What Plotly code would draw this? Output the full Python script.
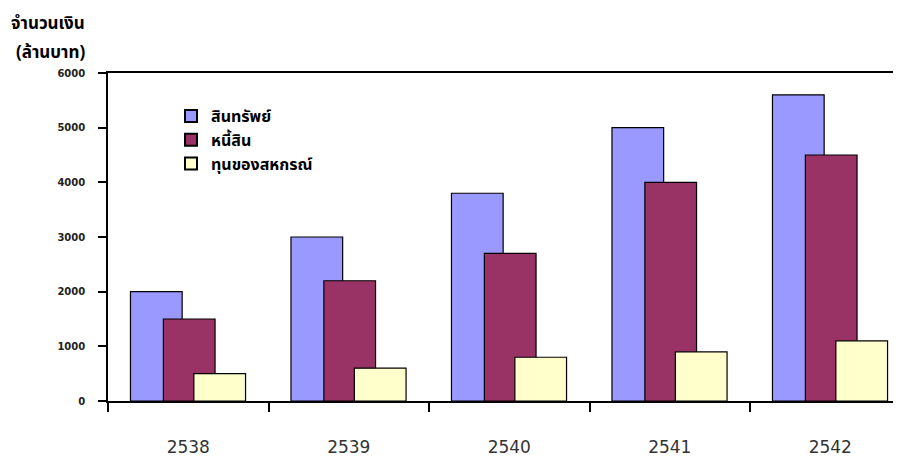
import plotly.graph_objects as go

years = ["2538", "2539", "2540", "2541", "2542"]
assets = [2000, 3000, 3800, 5000, 5600]
liabilities = [1500, 2200, 2700, 4000, 4500]
equity = [500, 600, 800, 900, 1100]
series_names = ["สินทรัพย์", "หนี้สิน", "ทุนของสหกรณ์"]
colors = ["#9999FF", "#993366", "#FFFFCC"]
y_ticks = [0, 1000, 2000, 3000, 4000, 5000, 6000]

THAI = "Noto Sans Thai, Tahoma, Loma, Garuda, Noto Sans, DejaVu Sans, sans-serif"

# page is rendered with an 8px body margin; work in page pixels and shift
OFF = 8
W, H = 901 - OFF, 460 - OFF
pl, pt, pw, ph = 108 - OFF, 73 - OFF, 793, 328


def px_x(x):
    return (x - OFF - pl) / pw


def px_y(y):
    return (pt + ph - (y - OFF)) / ph


fig = go.Figure()
offsets = [-0.36, -0.155, 0.035]
for name, vals, col, off in zip(series_names, [assets, liabilities, equity], colors, offsets):
    fig.add_trace(go.Bar(
        x=years, y=vals, name=name,
        marker=dict(color=col, line=dict(color="#000000", width=1.2)),
        width=0.322, offset=off,
    ))

anns = []
for txt, px, py in [("จำนวนเงิน", 9, 24), ("(ล้านบาท)", 14, 53)]:
    anns.append(dict(text=txt, xref="paper", yref="paper",
                     x=px_x(px), y=px_y(py),
                     xanchor="left", yanchor="middle", showarrow=False,
                     font=dict(family=THAI, size=17, color="#000000", weight="bold")))

fig.update_layout(
    width=W, height=H,
    margin=dict(l=pl, r=W - pl - pw, t=pt, b=H - pt - ph),
    barmode="overlay",
    plot_bgcolor="white", paper_bgcolor="white",
    showlegend=True,
    legend=dict(x=px_x(171), y=px_y(99), xanchor="left", yanchor="top",
                bgcolor="rgba(0,0,0,0)", tracegroupgap=0, itemsizing="constant",
                font=dict(family=THAI, size=16, color="#000000", weight="bold")),
    annotations=anns,
)

fig.update_xaxes(
    type="category", range=[-0.5, -0.5 + pw / 160.5], automargin=False,
    showline=True, linecolor="#000000", linewidth=1.5, mirror=True,
    ticks="outside", tickson="boundaries", ticklen=9, tickcolor="#000000", tickwidth=1.5,
    showgrid=False, ticklabelstandoff=30,
    tickfont=dict(family="DejaVu Sans", size=17, color="#333333"),
)
fig.update_yaxes(
    range=[0, 6000], tickvals=y_ticks, automargin=False,
    showline=True, linecolor="#000000", linewidth=1.5,
    ticks="outside", ticklen=8, tickcolor="#000000", tickwidth=1.5,
    showgrid=False, zeroline=False, ticklabelstandoff=11,
    tickfont=dict(family="DejaVu Sans", size=10, color="#222222", weight="bold"),
)

fig.write_html("out.html")
